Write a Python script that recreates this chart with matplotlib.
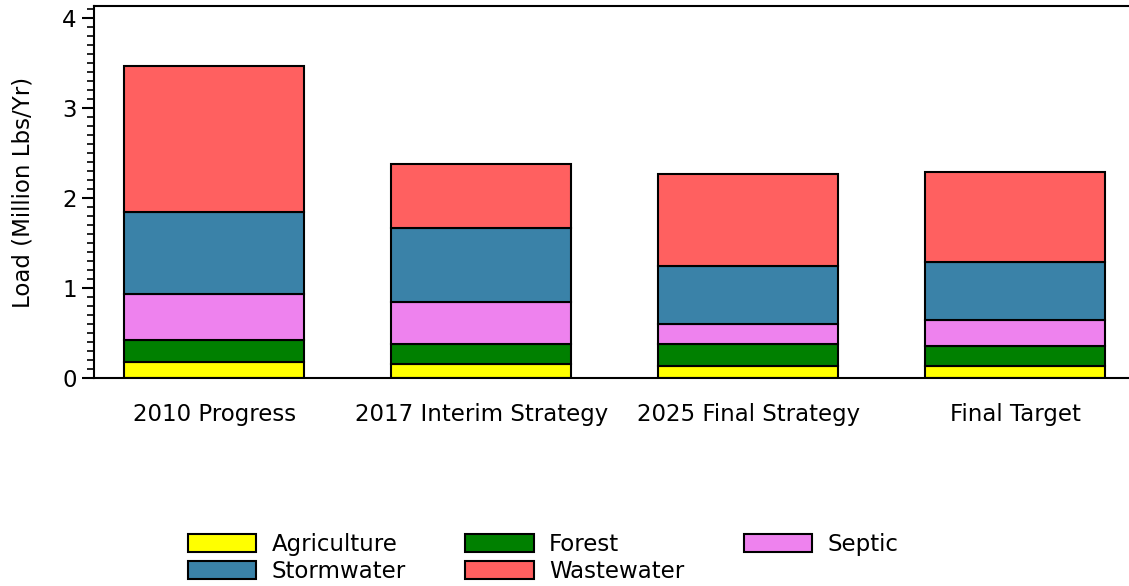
import numpy as np
import matplotlib
matplotlib.use("Agg")
import matplotlib.pyplot as plt
from matplotlib.patches import Patch
from matplotlib.ticker import MultipleLocator

# loads in million lbs/yr
scenarios = ["2010 Progress", "2017 Interim Strategy", "2025 Final Strategy", "Final Target"]
agriculture = [0.175, 0.156, 0.133, 0.130]
forest = [0.247, 0.222, 0.245, 0.226]
septic = [0.511, 0.466, 0.222, 0.288]
stormwater = [0.915, 0.823, 0.644, 0.649]
wastewater = [1.620, 0.711, 1.023, 0.996]

sources = ["Agriculture", "Forest", "Septic", "Stormwater", "Wastewater"]
colors = ["#FFFF00", "#008000", "#EE82EE", "#3A82A8", "#FF6060"]
series = [agriculture, forest, septic, stormwater, wastewater]

fs = 16.5

fig = plt.figure(figsize=(11.29, 5.86), dpi=100)
ax = fig.add_axes([94 / 1129, 1 - 378 / 586, 1 - 94 / 1129, (378 - 6) / 586])

x = np.arange(len(scenarios))
bottom = np.zeros(len(scenarios))
for vals, col in zip(series, colors):
    ax.bar(x, vals, width=0.674, bottom=bottom, color=col, edgecolor="black", linewidth=1.5, zorder=2)
    bottom += np.array(vals)

ax.set_xlim(-0.45, 3.426)
ax.set_ylim(0, 4.133)
ax.set_xticks(x)
ax.set_xticklabels(scenarios, fontsize=fs)
ax.tick_params(axis="x", length=0, pad=18)
ax.set_yticks([0, 1, 2, 3, 4])
ax.yaxis.set_minor_locator(MultipleLocator(0.1))
ax.tick_params(axis="y", which="major", length=9, width=1.5, labelsize=fs)
ax.tick_params(axis="y", which="minor", length=5, width=1.2)
ax.spines["right"].set_visible(False)
for s in ["left", "bottom", "top"]:
    ax.spines[s].set_linewidth(1.5)
ax.set_ylabel("Load (Million Lbs/Yr)", fontsize=fs, labelpad=20)

# legend rows: Agriculture/Forest/Septic then Stormwater/Wastewater
order = [0, 3, 1, 4, 2]
handles = [Patch(facecolor=colors[i], edgecolor="black", linewidth=1.5) for i in order]
labels = [sources[i] for i in order]
fig.legend(handles, labels, ncol=3, loc="lower left", bbox_to_anchor=(0.148, -0.03),
           frameon=False, fontsize=fs, handlelength=3.0, handleheight=0.85,
           columnspacing=2.6, labelspacing=0.17, handletextpad=0.65)

fig.savefig("out.png", dpi=100)
